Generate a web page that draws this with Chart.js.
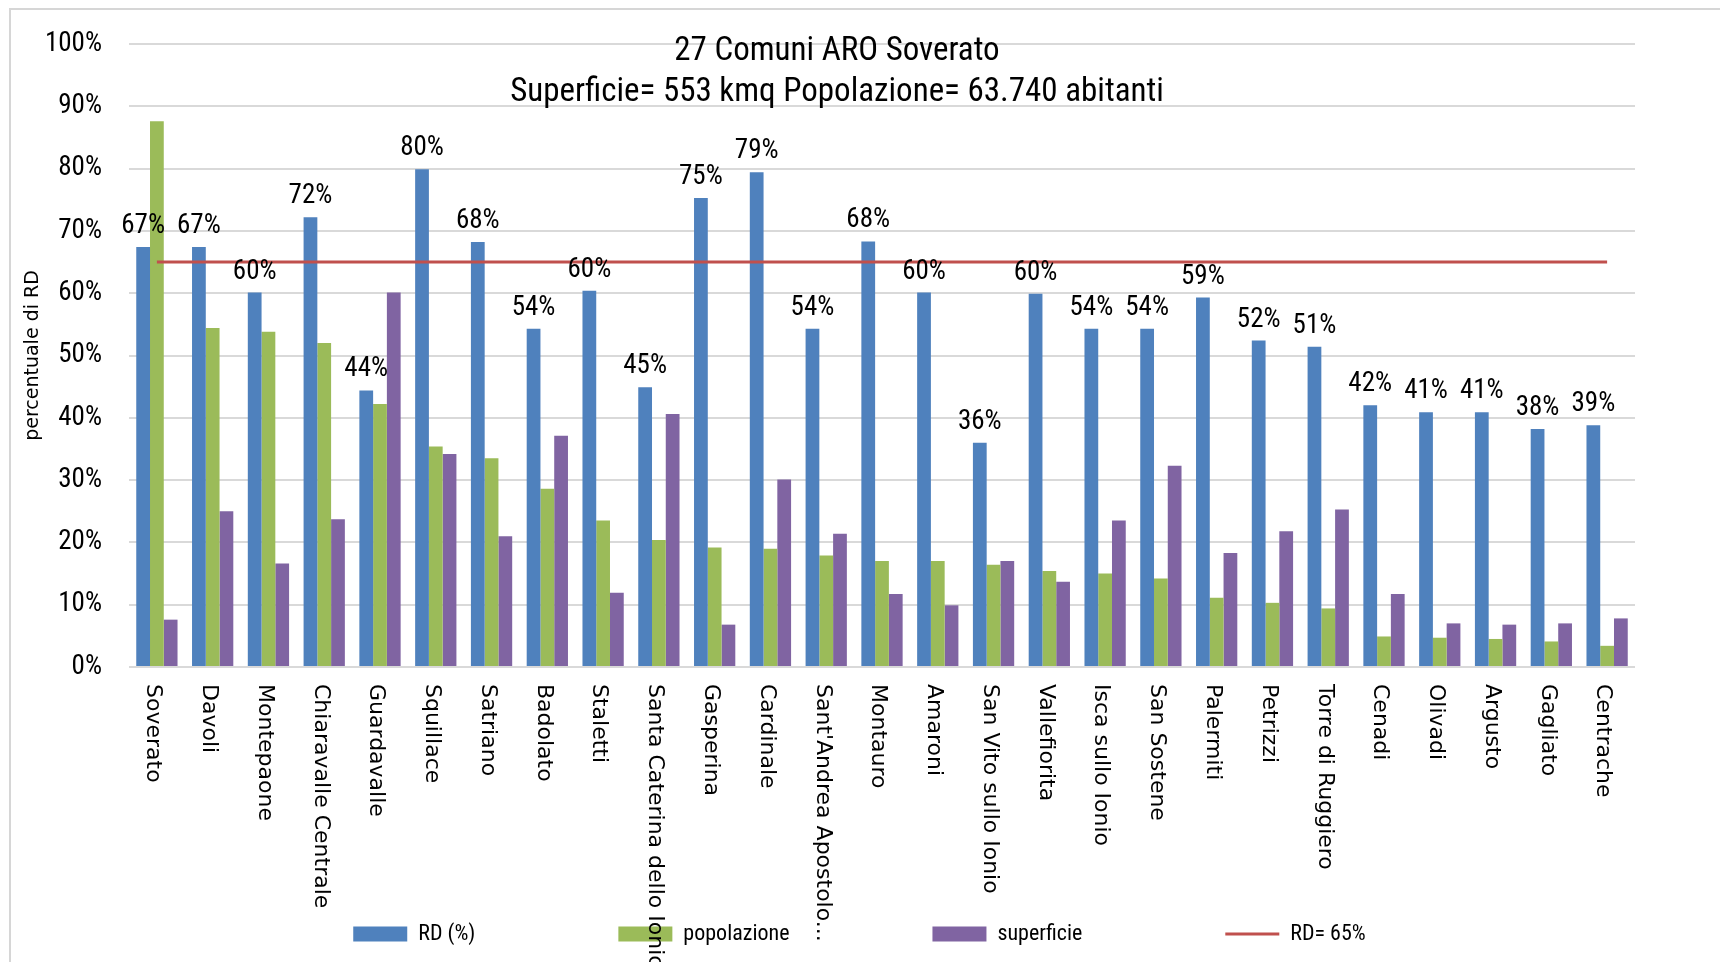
<!DOCTYPE html>
<html>
<head>
<meta charset="utf-8">
<script src="https://cdn.jsdelivr.net/npm/chart.js@4.4.0/dist/chart.umd.min.js"></script>
<style>
  html, body { margin: 0; padding: 0; background: #fff; overflow: hidden; }
  #frame { position: absolute; left: 9px; top: 8px; width: 1740px; height: 990px; border: 2px solid #d6d6d6; }
  #wrap { position: absolute; left: 0; top: 0; width: 1720px; height: 962px; }
</style>
</head>
<body>
<div id="frame"></div>
<div id="wrap"><canvas id="chart"></canvas></div>
<script>
const comuni = ['Soverato', 'Davoli', 'Montepaone', 'Chiaravalle Centrale', 'Guardavalle', 'Squillace',
    'Satriano', 'Badolato', 'Staletti', 'Santa Caterina dello Ionio', 'Gasperina', 'Cardinale',
    "Sant'Andrea Apostolo...", 'Montauro', 'Amaroni', 'San Vito sullo Ionio', 'Vallefiorita',
    'Isca sullo Ionio', 'San Sostene', 'Palermiti', 'Petrizzi', 'Torre di Ruggiero', 'Cenadi',
    'Olivadi', 'Argusto', 'Gagliato', 'Centrache'];
// RD (%)
const rd = [67.4, 67.4, 60.1, 72.2, 44.4, 79.9, 68.2, 54.3, 60.4, 44.9, 75.3, 79.4, 54.3, 68.3,
    60.1, 36.0, 59.9, 54.3, 54.3, 59.3, 52.4, 51.4, 42.0, 40.9, 40.9, 38.2, 38.8];
// quota di popolazione
const popolazione = [87.6, 54.4, 53.8, 52.0, 42.2, 35.4, 33.5, 28.6, 23.5, 20.4, 19.2, 19.0, 17.9, 17.0,
    17.0, 16.4, 15.4, 15.0, 14.2, 11.1, 10.3, 9.4, 4.9, 4.7, 4.5, 4.1, 3.4];
// quota di superficie
const superficie = [7.6, 25.0, 16.6, 23.7, 60.1, 34.2, 21.0, 37.1, 11.9, 40.6, 6.8, 30.1, 21.4, 11.7,
    9.9, 17.0, 13.7, 23.5, 32.3, 18.3, 21.8, 25.3, 11.7, 7.0, 6.8, 7.0, 7.8];
const soglia = 65;
const titleLines = ['27 Comuni ARO Soverato', 'Superficie= 553 kmq Popolazione= 63.740 abitanti'];

const NARROW = "'Liberation Sans Narrow', 'Arial Narrow', 'Roboto Condensed', 'Liberation Sans', sans-serif";

// etichette delle barre, nomi dei comuni (ruotati) e titolo
const extraText = {
    id: 'extraText',
    afterLayout(chart) {
        // la legenda di Excel è centrata sulla pagina, non sull'area del grafico
        chart.legend.left += 37;
        chart.legend.right += 37;
    },
    afterDatasetsDraw(chart) {
        const ctx = chart.ctx;
        const meta = chart.getDatasetMeta(0);
        ctx.save();
        ctx.font = '27px ' + NARROW;
        ctx.fillStyle = '#000';
        ctx.textAlign = 'center';
        ctx.textBaseline = 'alphabetic';
        meta.data.forEach((bar, i) => {
            ctx.fillText(Math.round(rd[i]) + '%', bar.x, bar.y - 14);
        });
        ctx.restore();
    },
    afterDraw(chart) {
        const ctx = chart.ctx;
        const xScale = chart.scales.x;
        ctx.save();
        ctx.font = '22px "DejaVu Sans"';
        ctx.fillStyle = '#000';
        ctx.textAlign = 'left';
        ctx.textBaseline = 'middle';
        comuni.forEach((name, i) => {
            ctx.save();
            ctx.translate(xScale.getPixelForTick(i) - 4, chart.chartArea.bottom + 17);
            ctx.rotate(Math.PI / 2);
            ctx.fillText(name, 0, 0);
            ctx.restore();
        });
        ctx.font = '33px ' + NARROW;
        ctx.textAlign = 'center';
        ctx.fillText(titleLines[0], 837, 52);
        ctx.fillText(titleLines[1], 837, 93);
        ctx.restore();
    }
};

const ctx = document.getElementById('chart');
const chart = new Chart(ctx, {
    type: 'bar',
    data: {
        labels: comuni,
        datasets: [
            { label: 'RD (%)', data: rd, backgroundColor: '#4F81BD', borderColor: '#4F81BD', borderWidth: 0 },
            { label: 'popolazione', data: popolazione, backgroundColor: '#9BBB59', borderColor: '#9BBB59', borderWidth: 0 },
            { label: 'superficie', data: superficie, backgroundColor: '#8064A2', borderColor: '#8064A2', borderWidth: 0 },
            {
                type: 'line', label: 'RD= 65%', data: comuni.map(() => soglia),
                borderColor: '#C0504D', backgroundColor: '#C0504D', borderWidth: 3,
                pointRadius: 0, fill: false, order: -1
            }
        ]
    },
    options: {
        responsive: true,
        maintainAspectRatio: false,
        animation: false,
        layout: { padding: { top: 44, left: 10, right: 85, bottom: 7 } },
        datasets: { bar: { categoryPercentage: 0.74, barPercentage: 1 } },
        scales: {
            x: {
                grid: { display: false },
                border: { display: false },
                ticks: { display: false },
                afterFit: (s) => { s.height = 113; }
            },
            y: {
                min: 0,
                max: 100,
                ticks: {
                    stepSize: 10,
                    callback: (v) => v + '%',
                    font: { size: 27, family: NARROW },
                    color: '#000',
                    padding: 27
                },
                grid: { color: '#d9d9d9', lineWidth: 2, drawTicks: false },
                border: { display: false },
                title: {
                    display: true,
                    text: 'percentuale di RD',
                    font: { size: 19, family: 'DejaVu Sans' },
                    color: '#000',
                    padding: { top: 12, bottom: 0 }
                },
                afterFit: (s) => { s.width = 119; }
            }
        },
        plugins: {
            tooltip: { enabled: false },
            legend: {
                position: 'bottom',
                labels: {
                    usePointStyle: true,
                    pointStyleWidth: 54,
                    boxHeight: 15,
                    padding: 143,
                    color: '#000',
                    font: { size: 22, family: NARROW },
                    generateLabels: (chart) => chart.data.datasets.map((ds, i) => ({
                        text: ds.label,
                        datasetIndex: i,
                        hidden: false,
                        fontColor: '#000',
                        fillStyle: ds.type === 'line' ? 'rgba(0,0,0,0)' : ds.backgroundColor,
                        strokeStyle: ds.borderColor,
                        lineWidth: ds.type === 'line' ? 3 : 0,
                        pointStyle: ds.type === 'line' ? 'line' : 'rect'
                    }))
                }
            }
        }
    },
    plugins: [extraText]
});
</script>
</body>
</html>
